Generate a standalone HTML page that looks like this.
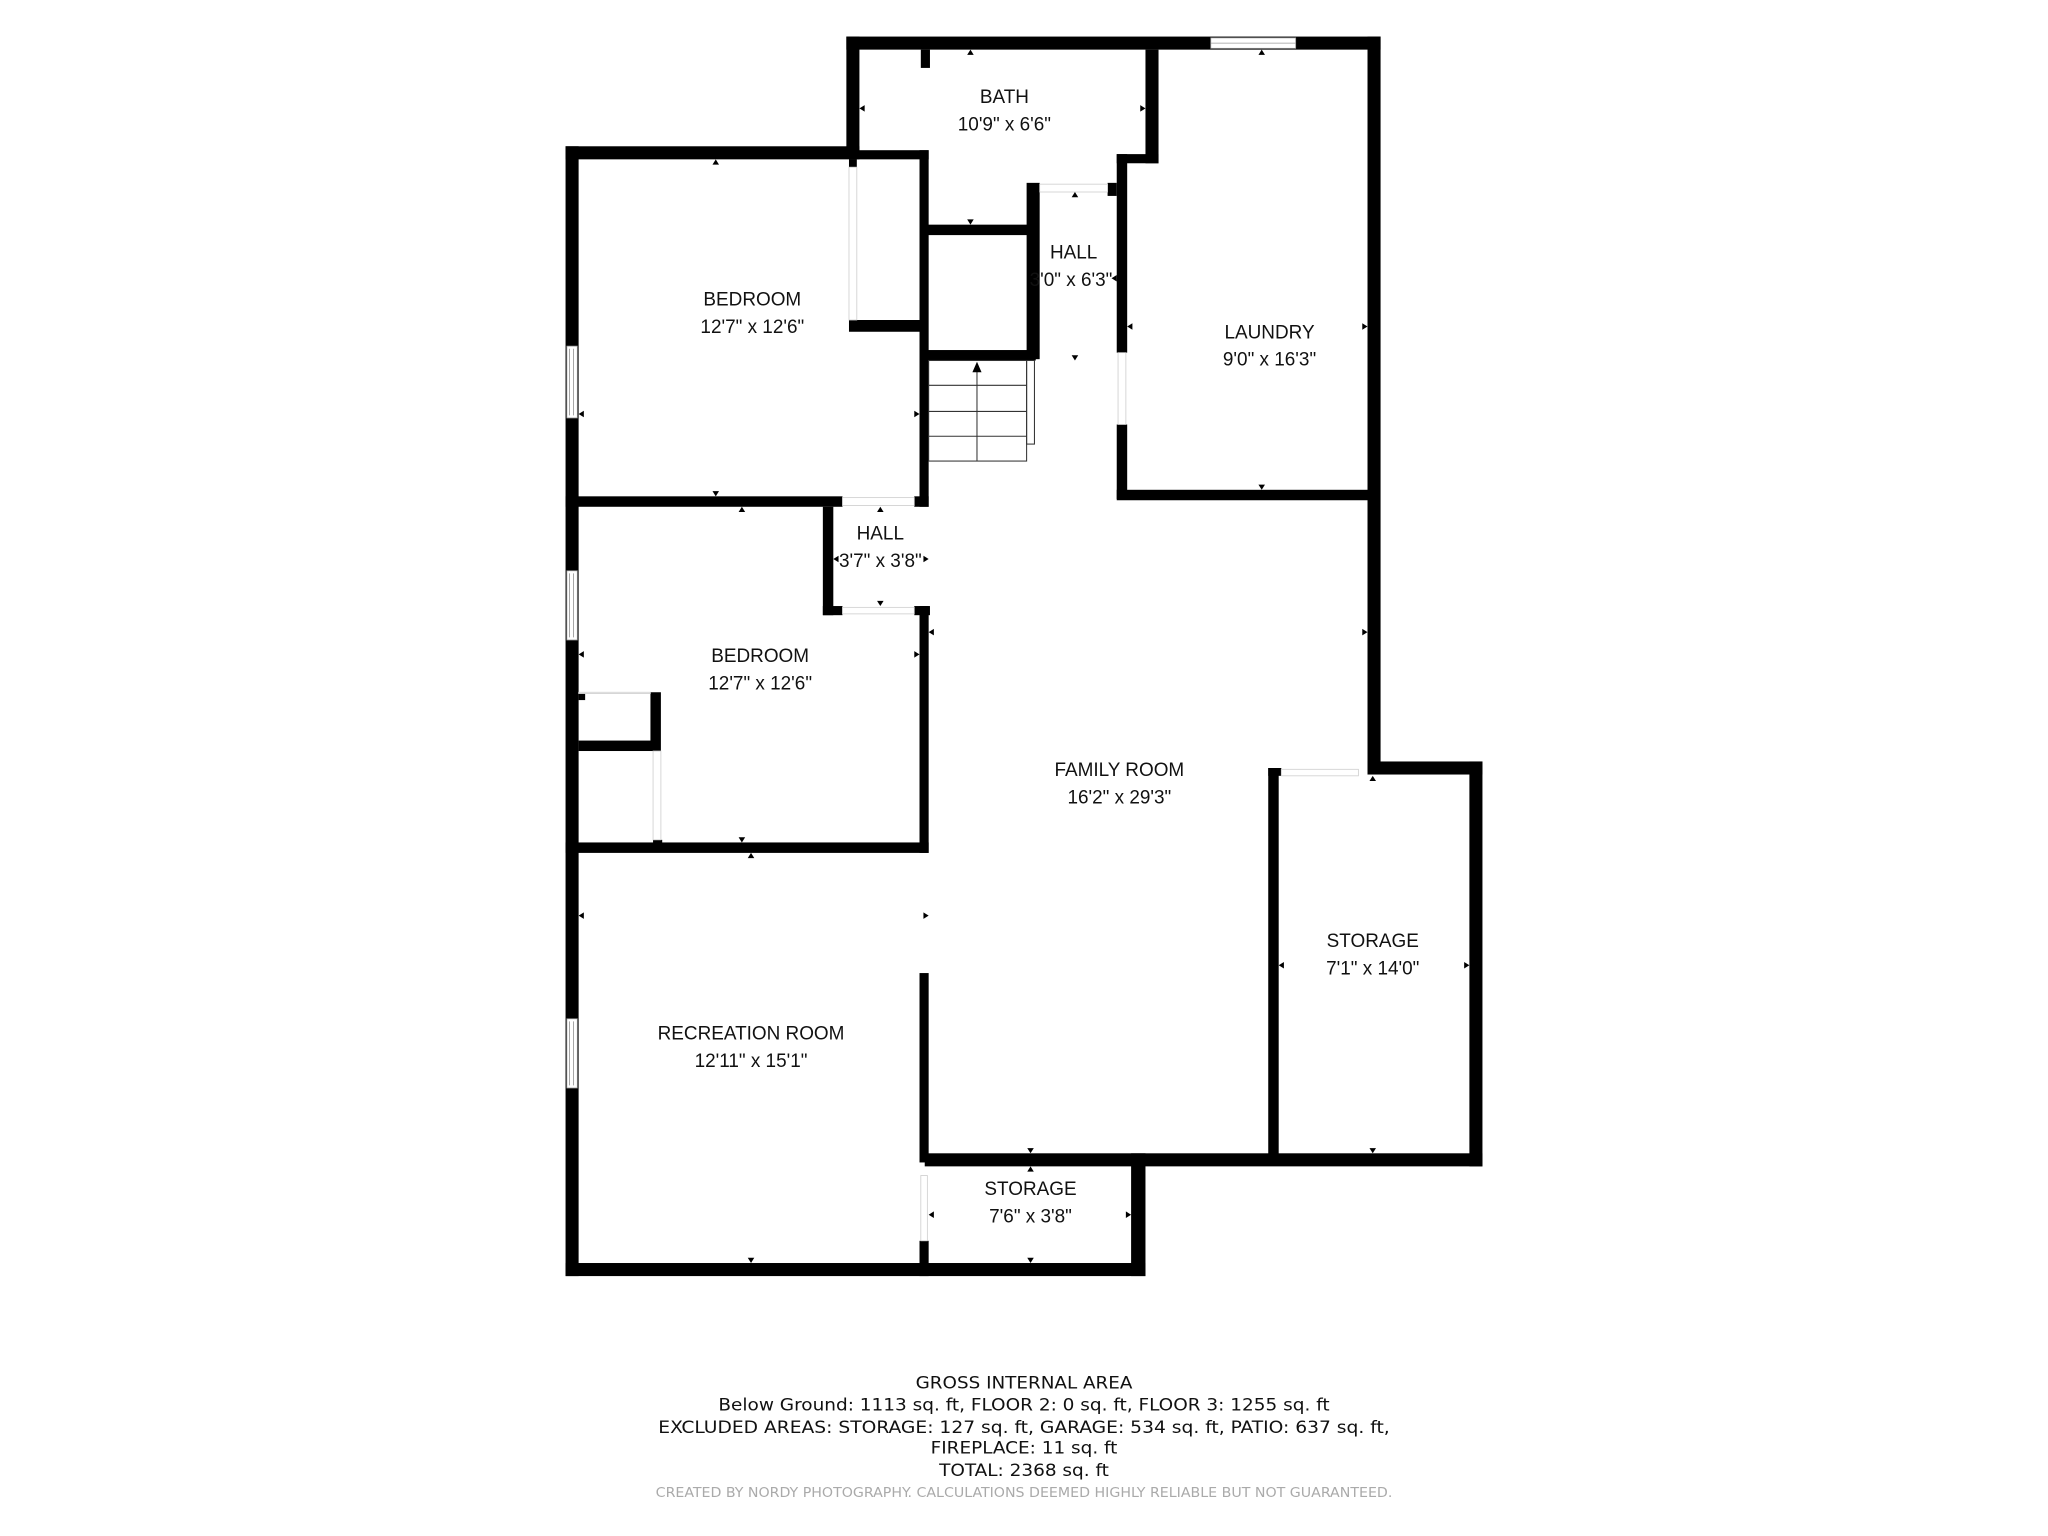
<!DOCTYPE html>
<html><head><meta charset="utf-8"><style>
html,body{margin:0;padding:0;background:#fff;width:2048px;height:1536px;overflow:hidden}
svg{display:block}
.l{font-family:"Liberation Sans",sans-serif;font-size:14.5px;fill:#111;text-anchor:middle}
.f{font-family:"DejaVu Sans Condensed","Liberation Sans Narrow","Liberation Sans",sans-serif;font-size:13px;fill:#111;text-anchor:middle}
</style></head><body>
<svg width="2048" height="1536" viewBox="0 0 1568 1176" xmlns="http://www.w3.org/2000/svg">
<rect width="1568" height="1176" fill="#fff"/>
<g fill="#000">
<!-- outer walls -->
<rect x="648" y="28" width="409" height="10"/>
<rect x="648" y="28" width="10" height="90"/>
<rect x="1047" y="28" width="10" height="562"/>
<rect x="1047" y="583" width="88" height="10"/>
<rect x="1125" y="583" width="10" height="310"/>
<rect x="708" y="883" width="427" height="10"/>
<rect x="866" y="883" width="11" height="94"/>
<rect x="433" y="967" width="444" height="10"/>
<rect x="433" y="112" width="10" height="865"/>
<rect x="433" y="112" width="225" height="10"/>
<rect x="650" y="115" width="61" height="7"/>
<rect x="705" y="38" width="7" height="14"/>
<!-- inner -->
<rect x="704" y="115" width="7" height="273"/>
<rect x="650" y="245" width="60" height="9"/>
<rect x="650" y="122" width="6" height="6"/>
<rect x="710" y="172" width="80" height="8"/>
<rect x="877" y="38" width="10" height="87"/>
<rect x="855" y="118" width="32" height="7"/>
<rect x="855" y="118" width="8" height="152"/>
<rect x="855" y="325" width="8" height="57"/>
<rect x="855" y="375" width="195" height="8"/>
<rect x="786" y="140" width="10" height="135"/>
<rect x="848" y="140" width="7" height="10"/>
<rect x="710" y="268" width="83" height="8"/>
<rect x="433" y="380" width="212" height="8"/>
<rect x="700" y="380" width="11" height="8"/>
<rect x="630" y="388" width="8" height="83"/>
<rect x="630" y="464" width="15" height="7"/>
<rect x="700" y="464" width="12" height="7"/>
<rect x="704" y="464" width="7" height="189"/>
<rect x="443" y="567" width="62" height="8"/>
<rect x="498" y="530" width="8" height="45"/>
<rect x="443" y="530" width="5" height="6"/>
<rect x="500" y="643" width="7" height="7"/>
<rect x="433" y="645" width="278" height="8"/>
<rect x="704" y="745" width="7" height="145"/>
<rect x="704" y="950" width="7" height="27"/>
<rect x="971" y="588" width="8" height="302"/>
<rect x="971" y="588" width="10" height="6"/>
</g>
<g fill="#fff" stroke="#999" stroke-width="0.6">
<!-- windows -->
<rect x="927" y="29" width="65" height="8"/>
<line x1="927" y1="33" x2="992" y2="33"/>
<rect x="434" y="265" width="8" height="55"/>
<rect x="434" y="437" width="8" height="53"/>
<rect x="434" y="780" width="8" height="53"/>
<!-- doors -->
<rect x="650" y="128" width="6" height="117" stroke="#ccc"/>
<rect x="796" y="141" width="52" height="6" stroke="#ccc"/>
<rect x="856" y="270" width="6" height="55" stroke="#ccc"/>
<rect x="645" y="381" width="55" height="6" stroke="#ccc"/>
<rect x="645" y="465" width="55" height="5" stroke="#ccc"/>
<rect x="981" y="589" width="59" height="5" stroke="#ccc"/>
<rect x="705" y="900" width="5" height="50" stroke="#ccc"/>
<rect x="500" y="575" width="6" height="68" stroke="#ccc"/>
<rect x="443" y="530" width="55" height="1" stroke="#ccc"/>
</g>
<g stroke="#777" stroke-width="0.5">
<line x1="436" y1="267" x2="436" y2="318"/><line x1="439" y1="267" x2="439" y2="318"/>
<line x1="436" y1="439" x2="436" y2="488"/><line x1="439" y1="439" x2="439" y2="488"/>
<line x1="436" y1="782" x2="436" y2="831"/><line x1="439" y1="782" x2="439" y2="831"/>
</g>
<!-- stairs -->
<g stroke="#333" stroke-width="0.8" fill="none">
<rect x="711" y="276" width="75" height="77"/>
<line x1="711" y1="295" x2="786" y2="295"/>
<line x1="711" y1="315" x2="786" y2="315"/>
<line x1="711" y1="334" x2="786" y2="334"/>
<line x1="748" y1="282" x2="748" y2="353"/>
<rect x="786" y="276" width="6" height="64"/>
</g>
<polygon points="748,277 744.5,285 751.5,285" fill="#000"/>
<!-- dimension arrowheads -->
<g fill="#000">
<polygon points="743,38 740.5,42 745.5,42"/><polygon points="743,172 740.5,168 745.5,168"/>
<polygon points="658,83 662,80.5 662,85.5"/><polygon points="877,83 873,80.5 873,85.5"/>
<polygon points="966,38 963.5,42 968.5,42"/><polygon points="966,375 963.5,371 968.5,371"/>
<polygon points="863,250 867,247.5 867,252.5"/><polygon points="1047,250 1043,247.5 1043,252.5"/>
<polygon points="823,147 820.5,151 825.5,151"/><polygon points="823,276 820.5,272 825.5,272"/>
<polygon points="548,122 545.5,126 550.5,126"/><polygon points="548,380 545.5,376 550.5,376"/>
<polygon points="443,317 447,314.5 447,319.5"/><polygon points="704,317 700,314.5 700,319.5"/>
<polygon points="674,388 671.5,392 676.5,392"/><polygon points="674,464 671.5,460 676.5,460"/>
<polygon points="568,388 565.5,392 570.5,392"/><polygon points="568,645 565.5,641 570.5,641"/>
<polygon points="443,501 447,498.5 447,503.5"/><polygon points="704,501 700,498.5 700,503.5"/>
<polygon points="711,484 715,481.5 715,486.5"/><polygon points="1047,484 1043,481.5 1043,486.5"/>
<polygon points="575,653 572.5,657 577.5,657"/><polygon points="575,967 572.5,963 577.5,963"/>
<polygon points="443,701 447,698.5 447,703.5"/><polygon points="711,701 707,698.5 707,703.5"/>
<polygon points="1051,594 1048.5,598 1053.5,598"/><polygon points="1051,883 1048.5,879 1053.5,879"/>
<polygon points="979,739 983,736.5 983,741.5"/><polygon points="1125,739 1121,736.5 1121,741.5"/>
<polygon points="789,883 786.5,879 791.5,879"/><polygon points="789,893 786.5,897 791.5,897"/>
<polygon points="789,967 786.5,963 791.5,963"/>
<polygon points="711,930 715,927.5 715,932.5"/><polygon points="866,930 862,927.5 862,932.5"/>
<polygon points="851,213 855,210.5 855,215.5"/><polygon points="711,428 707,425.5 707,430.5"/><polygon points="638,428 642,425.5 642,430.5"/>
</g>
<!-- labels -->
<text class="l" x="769" y="79">BATH</text><text class="l" x="769" y="100">10'9" x 6'6"</text>
<text class="l" x="822" y="198">HALL</text><text class="l" x="820" y="219">3'0" x 6'3"</text>
<text class="l" x="576" y="234">BEDROOM</text><text class="l" x="576" y="255">12'7" x 12'6"</text>
<text class="l" x="972" y="259">LAUNDRY</text><text class="l" x="972" y="280">9'0" x 16'3"</text>
<text class="l" x="674" y="413">HALL</text><text class="l" x="674" y="434">3'7" x 3'8"</text>
<text class="l" x="582" y="507">BEDROOM</text><text class="l" x="582" y="528">12'7" x 12'6"</text>
<text class="l" x="857" y="594">FAMILY ROOM</text><text class="l" x="857" y="615">16'2" x 29'3"</text>
<text class="l" x="1051" y="725">STORAGE</text><text class="l" x="1051" y="746">7'1" x 14'0"</text>
<text class="l" x="575" y="796">RECREATION ROOM</text><text class="l" x="575" y="817">12'11" x 15'1"</text>
<text class="l" x="789" y="915">STORAGE</text><text class="l" x="789" y="936">7'6" x 3'8"</text>
<!-- footer -->
<text class="f" x="784" y="1063" textLength="166" lengthAdjust="spacingAndGlyphs">GROSS INTERNAL AREA</text>
<text class="f" x="784" y="1080" textLength="468" lengthAdjust="spacingAndGlyphs">Below Ground: 1113 sq. ft, FLOOR 2: 0 sq. ft, FLOOR 3: 1255 sq. ft</text>
<text class="f" x="784" y="1097" textLength="560" lengthAdjust="spacingAndGlyphs">EXCLUDED AREAS: STORAGE: 127 sq. ft, GARAGE: 534 sq. ft, PATIO: 637 sq. ft,</text>
<text class="f" x="784" y="1113" textLength="143" lengthAdjust="spacingAndGlyphs">FIREPLACE: 11 sq. ft</text>
<text class="f" x="784" y="1130" textLength="130" lengthAdjust="spacingAndGlyphs">TOTAL: 2368 sq. ft</text>
<text class="f" x="784" y="1146" style="font-size:10px;fill:#aaa" textLength="564" lengthAdjust="spacingAndGlyphs">CREATED BY NORDY PHOTOGRAPHY. CALCULATIONS DEEMED HIGHLY RELIABLE BUT NOT GUARANTEED.</text>
</svg>
</body></html>
